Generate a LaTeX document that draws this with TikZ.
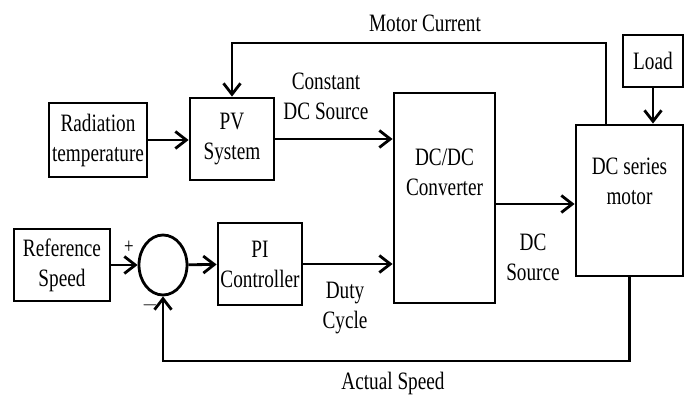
\documentclass[tikz,border=0pt]{standalone}
\usepackage{fontspec}
\setmainfont[FakeStretch=0.77]{Liberation Serif}
\usetikzlibrary{arrows.meta,shapes.geometric}

\begin{document}
\begin{tikzpicture}[x=1pt,y=-1pt,line width=2.8pt,>={Straight Barb[length=11pt,width=17pt]},font=\fontsize{25pt}{30pt}\selectfont,
  blk/.style={rectangle,draw=black,fill=white,inner sep=1pt,align=center},
  lbl/.style={align=center,inner sep=0pt}]
\useasboundingbox (0,0) rectangle (689,399);
\node[blk,minimum width=98pt,minimum height=74pt] (rad) at (98,140) {Radiation\\temperature};
\node[blk,minimum width=84pt,minimum height=82pt] (pv) at (232,139) {PV\\System};
\node[blk,minimum width=101pt,minimum height=210pt,label={[lbl,yshift=26pt]center:DC/DC\\Converter}] (conv) at (444.5,198) {};
\node[blk,minimum width=107pt,minimum height=151pt,label={[lbl,yshift=19pt]center:DC series\\motor}] (motor) at (629.5,200.5) {};
\node[blk,minimum width=60pt,minimum height=52pt] (load) at (653,61) {Load};
\node[blk,minimum width=96pt,minimum height=72pt] (ref) at (62,265) {Reference\\Speed};
\node[ellipse,draw=black,minimum width=48pt,minimum height=60pt,inner sep=0pt] (sum) at (163,265) {};
\node[blk,minimum width=84pt,minimum height=82pt] (pi) at (260,264) {PI\\Controller};
% signal labels
\node[lbl] (mcur) at (425,23) {Motor Current};
\node[lbl] (cdc) at (326,96) {Constant\\DC Source};
\node[lbl] (dcs) at (533,257) {DC\\Source};
\node[lbl] (duty) at (345,308) {Duty\\Cycle};
\node[lbl] (aspd) at (393,383) {Actual Speed};
\node[lbl,font=\fontsize{22pt}{24pt}\selectfont] (plus) at (129,247) {+};
\node[lbl,font=\fontsize{22pt}{24pt}\selectfont] (minus) at (150,305) {$-$};
% connections
\coordinate (top) at (0,43);
\coordinate (bot) at (0,361);
\draw[->] (rad.east) -- (rad.east -| pv.west);
\draw[->] (pv.east) -- (pv.east -| conv.west);
\draw[->] (ref) -- (sum);
\draw[->] (sum) -- (pi);
\draw[->] (pi.east) -- (pi.east -| conv.west);
\draw[->] ([yshift=-6pt]conv.east) -- ([yshift=-6pt]conv.east -| motor.west);
\draw[->] (load.south) -- (load.south |- motor.north);
\draw[->] ([xshift=-23.5pt]motor.north) |- (top -| pv.north) -- (pv.north);
\draw[->] (motor.south) |- (bot -| sum.south) -- (sum.south);
\end{tikzpicture}
\end{document}
